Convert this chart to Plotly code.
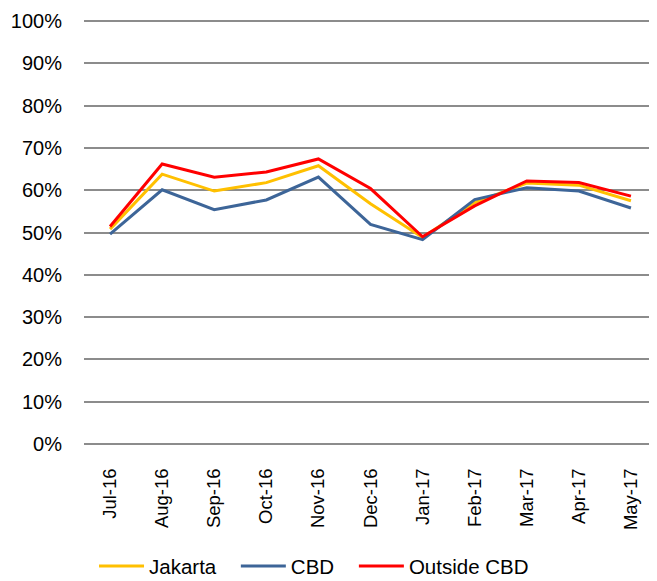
import plotly.graph_objects as go

months = ["Jul-16", "Aug-16", "Sep-16", "Oct-16", "Nov-16", "Dec-16",
          "Jan-17", "Feb-17", "Mar-17", "Apr-17", "May-17"]
jakarta = [0.508, 0.638, 0.598, 0.618, 0.658, 0.568, 0.488, 0.571, 0.617, 0.612, 0.575]
cbd = [0.496, 0.601, 0.554, 0.577, 0.631, 0.519, 0.483, 0.578, 0.606, 0.598, 0.558]
outside = [0.514, 0.662, 0.631, 0.643, 0.674, 0.604, 0.490, 0.563, 0.622, 0.618, 0.586]

y_ticks = [i / 10 for i in range(11)]

font = "Liberation Sans, Arial, sans-serif"

fig = go.Figure()
fig.add_trace(go.Scatter(x=months, y=jakarta, name="Jakarta", mode="lines",
                         line=dict(color="#FFC000", width=3), legend="legend"))
fig.add_trace(go.Scatter(x=months, y=cbd, name="CBD", mode="lines",
                         line=dict(color="#3D6598", width=3), legend="legend2"))
fig.add_trace(go.Scatter(x=months, y=outside, name="Outside CBD", mode="lines",
                         line=dict(color="#FF0000", width=3), legend="legend3"))

leg_common = dict(orientation="h", xanchor="left", yref="container", y=0.026,
                  yanchor="middle", font=dict(size=20.5), bgcolor="rgba(0,0,0,0)",
                  itemwidth=45)

# page body has an 8px margin, so the figure is 8px smaller than the window
fig.update_layout(
    width=649, height=573,
    margin=dict(l=76, r=0, t=11, b=135, autoexpand=False),
    paper_bgcolor="white", plot_bgcolor="white",
    font=dict(family=font, size=20, color="#000000"),
    showlegend=True,
    legend=dict(x=0.0175, **leg_common),
    legend2=dict(x=0.265, **leg_common),
    legend3=dict(x=0.471, **leg_common),
)
fig.update_xaxes(type="category", tickangle=-90, showgrid=False, showline=False,
                 ticks="outside", ticklen=14, tickcolor="rgba(0,0,0,0)",
                 range=[-0.5, 10.5], tickfont=dict(size=18.5), automargin=False)
fig.update_yaxes(range=[-0.005, 1.005], tickvals=y_ticks, tickformat=".0%",
                 showgrid=True, gridcolor="#8C8C8C", gridwidth=1.5,
                 zeroline=False, showline=False, ticks="", ticklabelstandoff=21,
                 automargin=False)

fig.write_html("out.html")
